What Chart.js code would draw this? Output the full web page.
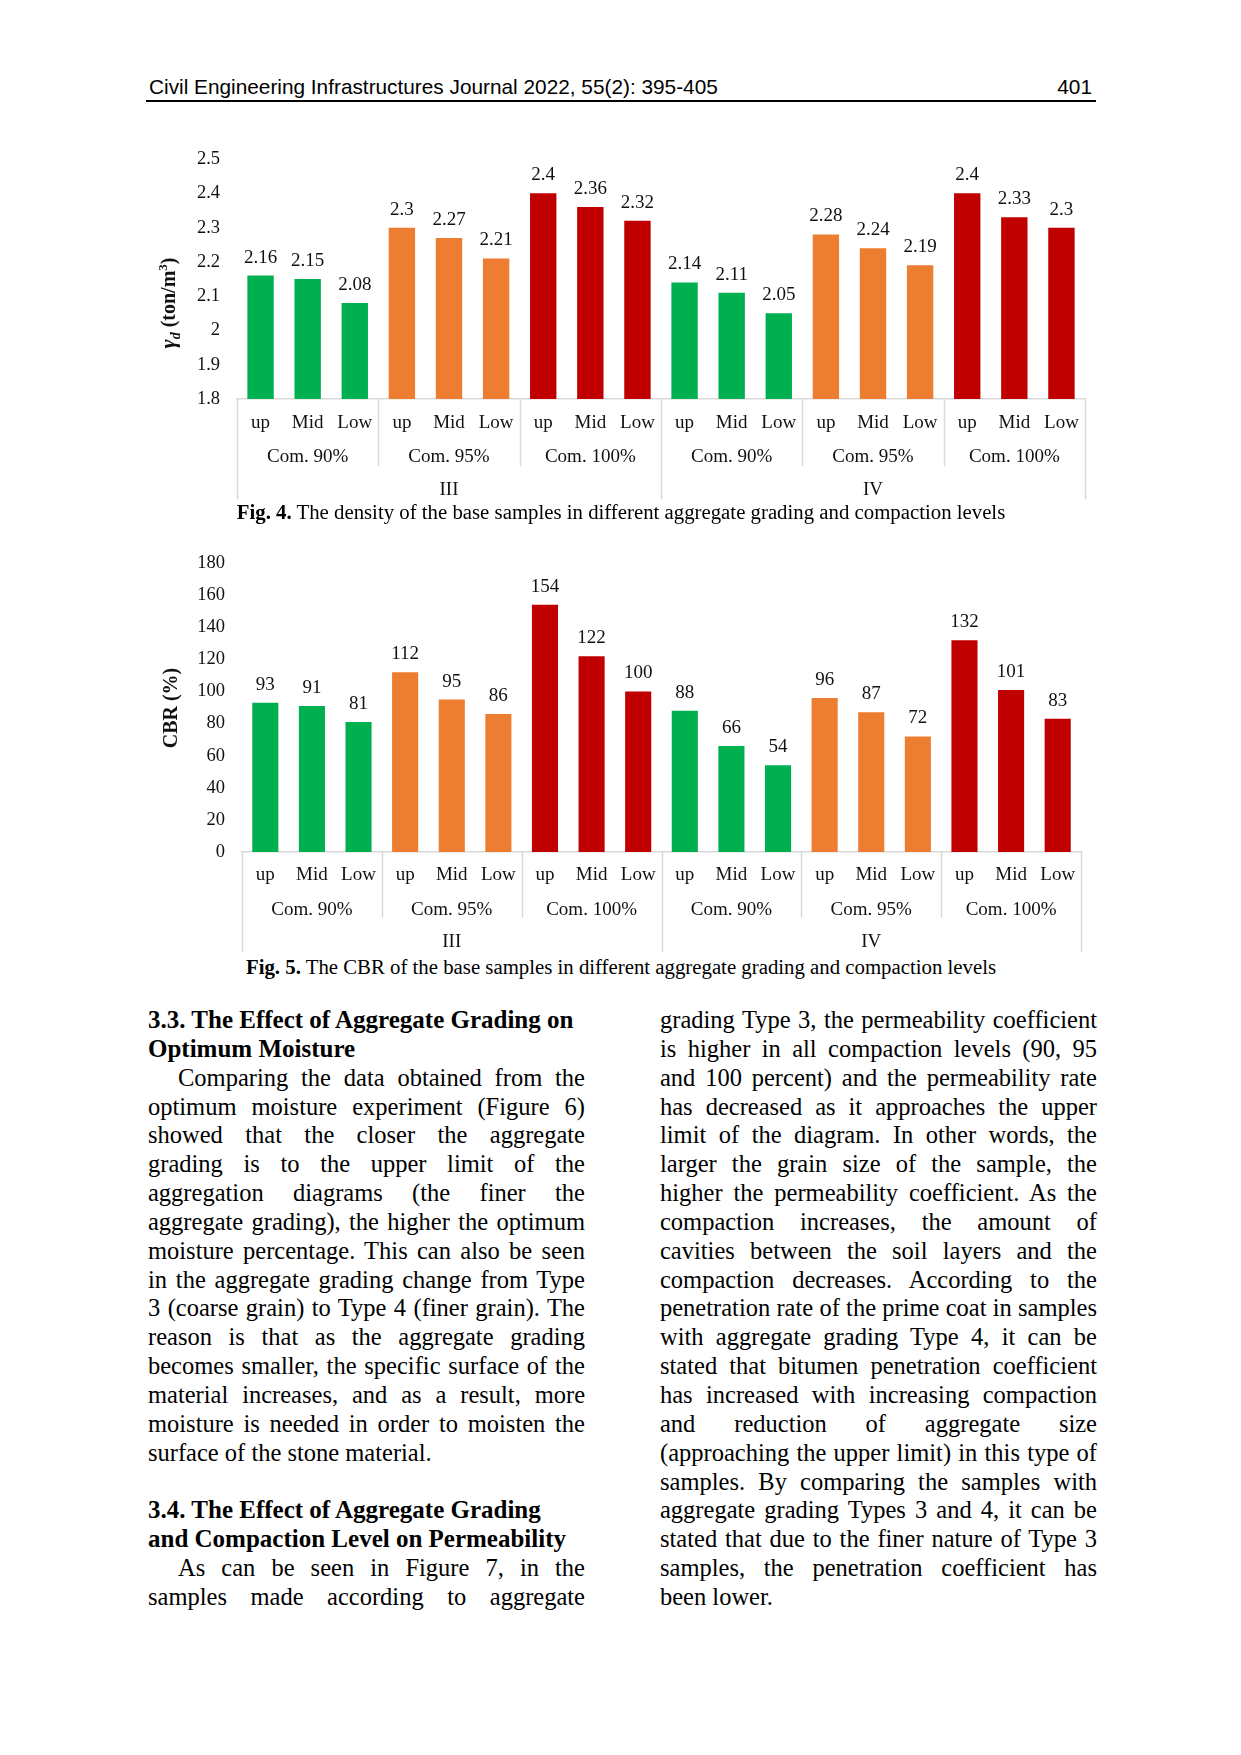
<!DOCTYPE html>
<html>
<head>
<meta charset="utf-8">
<script src="https://cdn.jsdelivr.net/npm/chart.js@4.4.1/dist/chart.umd.min.js"></script>
<style>
  body { margin: 0; background: #fff; }
  #page { position: relative; width: 1241px; height: 1755px; background: #fff; font-family: 'Liberation Serif', 'Times New Roman', serif; color: #000; }
  .abs { position: absolute; }
  .hdr { font-family: 'Liberation Sans', Arial, sans-serif; font-size: 20.8px; line-height: 21px; white-space: nowrap; }
  .cap { font-size: 20.8px; line-height: 21px; white-space: nowrap; text-align: center; width: 1000px; left: 121px; }
  .col { position: absolute; width: 437px; font-size: 24.5px; line-height: 28.85px; }
  .col div { height: 28.85px; text-align: justify; text-align-last: justify; }
  .col div.l { text-align-last: left; }
  .col div.b { font-weight: bold; font-size: 25px; text-align-last: left; }
  .col div.i { padding-left: 30px; }
</style>
</head>
<body>
<div id="page">
  <div class="abs hdr" style="left:149px;top:76px">Civil Engineering Infrastructures Journal 2022, 55(2): 395-405</div>
  <div class="abs hdr" style="left:992px;top:76px;width:100px;text-align:right">401</div>
  <div class="abs" style="left:146px;top:100px;width:950px;height:2px;background:#000"></div>

  <div class="abs" style="left:150px;top:131px;width:950px;height:372px"><canvas id="chartDensity"></canvas></div>
  <div class="abs cap" style="top:501px"><b>Fig. 4.</b> The density of the base samples in different aggregate grading and compaction levels</div>

  <div class="abs" style="left:150px;top:535px;width:950px;height:420px"><canvas id="chartCbr"></canvas></div>
  <div class="abs cap" style="top:956px"><b>Fig. 5.</b> The CBR of the base samples in different aggregate grading and compaction levels</div>

  <div class="col" style="left:148px;top:1006px">
    <div class="b">3.3. The Effect of Aggregate Grading on</div>
    <div class="b">Optimum Moisture</div>
    <div class="i">Comparing the data obtained from the</div>
    <div>optimum moisture experiment (Figure 6)</div>
    <div>showed that the closer the aggregate</div>
    <div>grading is to the upper limit of the</div>
    <div>aggregation diagrams (the finer the</div>
    <div>aggregate grading), the higher the optimum</div>
    <div>moisture percentage. This can also be seen</div>
    <div>in the aggregate grading change from Type</div>
    <div>3 (coarse grain) to Type 4 (finer grain). The</div>
    <div>reason is that as the aggregate grading</div>
    <div>becomes smaller, the specific surface of the</div>
    <div>material increases, and as a result, more</div>
    <div>moisture is needed in order to moisten the</div>
    <div class="l">surface of the stone material.</div>
    <div class="l"></div>
    <div class="b">3.4. The Effect of Aggregate Grading</div>
    <div class="b">and Compaction Level on Permeability</div>
    <div class="i">As can be seen in Figure 7, in the</div>
    <div>samples made according to aggregate</div>
  </div>

  <div class="col" style="left:660px;top:1006px">
    <div>grading Type 3, the permeability coefficient</div>
    <div>is higher in all compaction levels (90, 95</div>
    <div>and 100 percent) and the permeability rate</div>
    <div>has decreased as it approaches the upper</div>
    <div>limit of the diagram. In other words, the</div>
    <div>larger the grain size of the sample, the</div>
    <div>higher the permeability coefficient. As the</div>
    <div>compaction increases, the amount of</div>
    <div>cavities between the soil layers and the</div>
    <div>compaction decreases. According to the</div>
    <div>penetration rate of the prime coat in samples</div>
    <div>with aggregate grading Type 4, it can be</div>
    <div>stated that bitumen penetration coefficient</div>
    <div>has increased with increasing compaction</div>
    <div>and reduction of aggregate size</div>
    <div>(approaching the upper limit) in this type of</div>
    <div>samples. By comparing the samples with</div>
    <div>aggregate grading Types 3 and 4, it can be</div>
    <div>stated that due to the finer nature of Type 3</div>
    <div>samples, the penetration coefficient has</div>
    <div class="l">been lower.</div>
  </div>
</div>

<script>
// categories
const grading = ['up', 'Mid', 'Low'];
const compaction = ['Com. 90%', 'Com. 95%', 'Com. 100%'];
const types = ['III', 'IV'];
const groupColors = ['#00B050', '#ED7D31', '#C00000'];

// Fig. 4 - dry density (ton/m3)
const densityValues = [2.16, 2.15, 2.08, 2.3, 2.27, 2.21, 2.4, 2.36, 2.32,
                       2.14, 2.11, 2.05, 2.28, 2.24, 2.19, 2.4, 2.33, 2.3];
const densityTicks = [1.8, 1.9, 2, 2.1, 2.2, 2.3, 2.4, 2.5];

// Fig. 5 - CBR (%)
const cbrValues = [93, 91, 81, 112, 95, 86, 154, 122, 100,
                   88, 66, 54, 96, 87, 72, 132, 101, 83];
const cbrTicks = [0, 20, 40, 60, 80, 100, 120, 140, 160, 180];

const FONT = "'Liberation Serif', 'Times New Roman', serif";
const TEXT = '#111';

// one label per bar: up / Mid / Low for every compaction and type
const barLabels = [];
types.forEach(() => compaction.forEach(() => grading.forEach(g => barLabels.push(g))));
const barColors = barLabels.map((l, i) => groupColors[Math.floor(i / 3) % 3]);

// values above the bars
const valueLabels = {
  id: 'valueLabels',
  afterDatasetsDraw(chart, args, opts) {
    const ctx = chart.ctx;
    const meta = chart.getDatasetMeta(0);
    ctx.save();
    ctx.font = '19px ' + FONT;
    ctx.fillStyle = TEXT;
    ctx.textAlign = 'center';
    ctx.textBaseline = 'middle';
    meta.data.forEach((bar, i) => {
      ctx.fillText(String(chart.data.datasets[0].data[i]), bar.x, bar.y - opts.offset);
    });
    ctx.restore();
  }
};

// second and third level of the category axis (compaction, type) with separators
const groupAxis = {
  id: 'groupAxis',
  afterDraw(chart, args, opts) {
    const ctx = chart.ctx;
    const x = chart.scales.x;
    const base = chart.chartArea.bottom;
    const n = chart.data.labels.length;
    const edge = k => k <= 0 ? x.left : k >= n ? x.right : (x.getPixelForValue(k - 1) + x.getPixelForValue(k)) / 2;
    ctx.save();
    ctx.strokeStyle = '#d9d9d9';
    ctx.lineWidth = 1.5;
    for (let k = 0; k <= n; k += 3) {
      const len = k % 9 === 0 ? opts.longSep : opts.shortSep;
      const px = Math.round(edge(k)) + 0.5;
      ctx.beginPath();
      ctx.moveTo(px, base);
      ctx.lineTo(px, base + len);
      ctx.stroke();
    }
    ctx.fillStyle = TEXT;
    ctx.font = '19px ' + FONT;
    ctx.textAlign = 'center';
    ctx.textBaseline = 'middle';
    for (let g = 0; g < n / 3; g++) {
      ctx.fillText(compaction[g % 3], (edge(g * 3) + edge(g * 3 + 3)) / 2, base + opts.row2);
    }
    types.forEach((t, i) => {
      ctx.fillText(t, (edge(i * 9) + edge(i * 9 + 9)) / 2, base + opts.row3);
    });
    ctx.restore();
  }
};

// rotated y title made of several runs (for sub/superscripts)
const yTitle = {
  id: 'yTitle',
  afterDraw(chart, args, opts) {
    const ctx = chart.ctx;
    ctx.save();
    let total = 0;
    opts.parts.forEach(p => { ctx.font = p.font; total += ctx.measureText(p.text).width; });
    ctx.translate(opts.x, opts.y);
    ctx.rotate(-Math.PI / 2);
    ctx.fillStyle = TEXT;
    ctx.textBaseline = 'alphabetic';
    let cx = -total / 2;
    opts.parts.forEach(p => {
      ctx.font = p.font;
      ctx.fillText(p.text, cx, 7 + (p.dy || 0));
      cx += ctx.measureText(p.text).width;
    });
    ctx.restore();
  }
};

const makeConfig = (values, ticks, yWidth, padRight, padBottom, tickPad, axisOpts, titleOpts) => ({
  type: 'bar',
  data: {
    labels: barLabels,
    datasets: [{
      data: values,
      backgroundColor: barColors,
      borderWidth: 0,
      barPercentage: 0.56,
      categoryPercentage: 1
    }]
  },
  options: {
    responsive: true,
    maintainAspectRatio: false,
    animation: false,
    layout: { padding: { top: 28, right: padRight, bottom: padBottom, left: 0 } },
    plugins: {
      legend: { display: false },
      tooltip: { enabled: false },
      valueLabels: { offset: 18 },
      groupAxis: axisOpts,
      yTitle: titleOpts
    },
    scales: {
      x: {
        grid: { display: false, drawTicks: false },
        border: { color: '#d9d9d9', width: 1.5 },
        ticks: { color: TEXT, font: { family: FONT, size: 19 }, padding: tickPad, maxRotation: 0, autoSkip: false },
        afterFit: scale => { scale.height = 100; }
      },
      y: {
        min: ticks[0],
        max: ticks[ticks.length - 1],
        grid: { display: false, drawTicks: false },
        border: { display: false },
        ticks: { color: TEXT, font: { family: FONT, size: 18.5 }, padding: 17, callback: v => String(v) },
        afterBuildTicks: scale => { scale.ticks = ticks.map(v => ({ value: v })); },
        afterFit: scale => { scale.width = yWidth; }
      }
    }
  },
  plugins: [valueLabels, groupAxis, yTitle]
});

const chartDensity = new Chart(document.getElementById('chartDensity'), makeConfig(
  densityValues, densityTicks, 87, 15, 4, 13,
  { row2: 58, row3: 91, shortSep: 67, longSep: 100 },
  { x: 18, y: 172, parts: [
    { text: 'γ', font: 'bold italic 22px ' + FONT },
    { text: 'd', font: 'bold italic 14px ' + FONT, dy: 5 },
    { text: ' (ton/m', font: 'bold 20px ' + FONT },
    { text: '3', font: 'bold 13px ' + FONT, dy: -8 },
    { text: ')', font: 'bold 20px ' + FONT }
  ] }
));

const chartCbr = new Chart(document.getElementById('chartCbr'), makeConfig(
  cbrValues, cbrTicks, 92, 19, 3, 12,
  { row2: 58, row3: 90, shortSep: 66, longSep: 100 },
  { x: 20, y: 173, parts: [ { text: 'CBR (%)', font: 'bold 20px ' + FONT } ] }
));
</script>
</body>
</html>
